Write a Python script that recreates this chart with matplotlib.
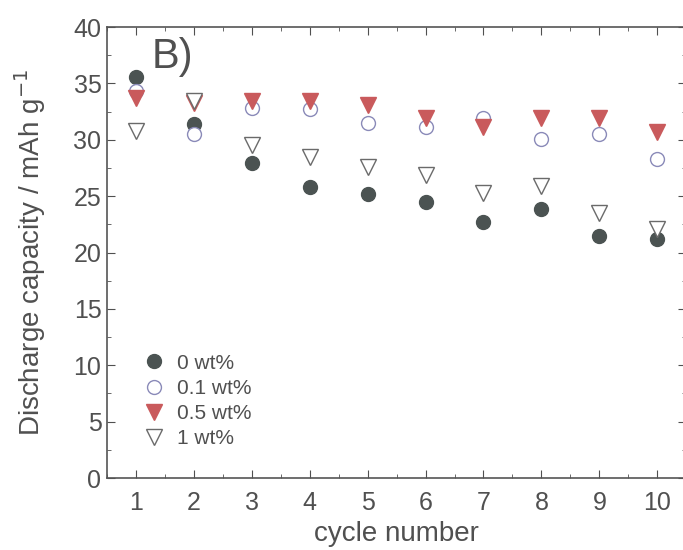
import matplotlib
matplotlib.use("Agg")
import matplotlib.pyplot as plt
from matplotlib.ticker import MultipleLocator

plt.rcParams['font.family'] = ['Liberation Sans', 'DejaVu Sans']

cycles = [1, 2, 3, 4, 5, 6, 7, 8, 9, 10]
wt0 = [35.6, 31.4, 27.9, 25.8, 25.2, 24.5, 22.7, 23.9, 21.5, 21.2]
wt01 = [34.3, 30.5, 32.8, 32.7, 31.5, 31.1, 31.9, 30.1, 30.5, 28.3]
wt05 = [33.7, 33.3, 33.4, 33.4, 33.1, 31.9, 31.1, 31.9, 31.9, 30.7]
wt1 = [30.8, 33.4, 29.5, 28.5, 27.6, 26.9, 25.3, 25.9, 23.5, 22.1]
labels = ['0 wt%', '0.1 wt%', '0.5 wt%', '1 wt%']

tc = '#505050'
fig = plt.figure(figsize=(6.83, 5.5), dpi=100)
ax = fig.add_axes([0.1567, 0.1309, 0.848, 0.82])

ax.plot(cycles, wt0, 'o', ms=10, mfc='#4b5352', mec='#4b5352', label=labels[0])
ax.plot(cycles, wt01, 'o', ms=10, mfc='white', mec='#8a8ab8', mew=1.0, label=labels[1])
ax.plot(cycles, wt05, 'v', ms=11.5, mfc='#c95a5c', mec='#c95a5c', label=labels[2])
ax.plot(cycles, wt1, 'v', ms=11.5, mfc='white', mec='#6a6a6a', mew=1.0, label=labels[3])

ax.set_xlim(0.5, 10.5)
ax.set_ylim(0, 40)
ax.set_xticks(cycles)
ax.xaxis.set_minor_locator(MultipleLocator(0.5))
ax.yaxis.set_major_locator(MultipleLocator(5))
ax.yaxis.set_minor_locator(MultipleLocator(2.5))
ax.tick_params(which='both', direction='in', top=True, right=True, colors=tc, labelcolor=tc, labelsize=18)
ax.tick_params(axis='x', pad=9)
ax.tick_params(axis='y', pad=4)
ax.tick_params(which='major', length=6)
ax.tick_params(which='minor', length=3)
for s in ax.spines.values():
    s.set_color('#555555')
    s.set_linewidth(1.2)

ax.set_xlabel('cycle number', fontsize=20, color=tc, labelpad=5)
ax.set_ylabel('Discharge capacity / mAh g$^{-1}$', fontsize=20, color=tc, labelpad=18)
ax.text(0.113, 0.933, 'B)', transform=ax.transAxes, fontsize=30, color=tc, ha='center', va='center')

leg = ax.legend(loc='lower left', bbox_to_anchor=(0.028, 0.024), frameon=False, fontsize=15,
                handletextpad=0.5, labelspacing=0.3, handlelength=1.2)
for t in leg.get_texts():
    t.set_color(tc)

fig.savefig('out.png', dpi=100)
